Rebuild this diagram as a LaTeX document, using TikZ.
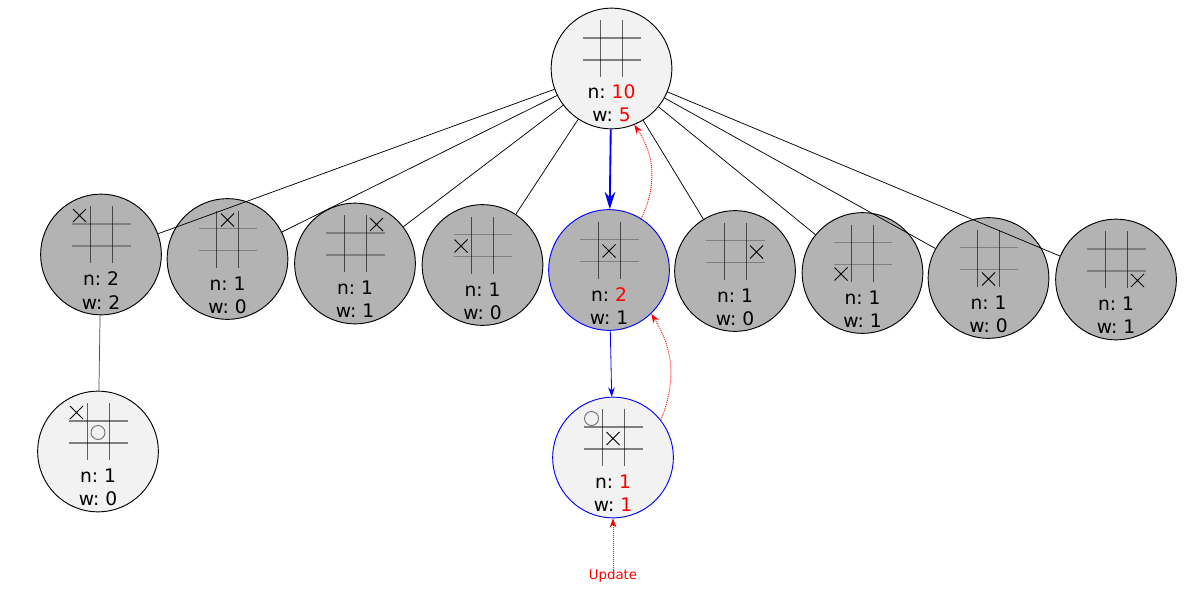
\documentclass[tikz,border=0pt]{standalone}
\usepackage{fontspec}
\setmainfont{DejaVu Sans}
\usepackage{xcolor}
\usepackage{tikz}
\usetikzlibrary{positioning,calc,arrows.meta}
\frenchspacing

\definecolor{fresh}{HTML}{F2F2F2}
\definecolor{visited}{HTML}{B3B3B3}
\definecolor{gridline}{HTML}{808080}

\newcommand{\hl}[1]{\textcolor{red}{#1}}
% empty 3x3 board in the upper half of a state
\newcommand{\board}[1]{%
  \begin{scope}[shift={(#1.center)}]
    \draw[gridh] (-29,-30.5) -- (29.5,-30.5) (-29,-8.5) -- (29.5,-8.5);
    \draw[gridv] (-11,-48.5) -- (-11,8.5) (11,-48.5) -- (11,8.5);
  \end{scope}}
% cross in column #2, row #3
\newcommand{\markx}[3]{%
  \begin{scope}[shift={(#1.center)}]
    \draw[xmark] ({21.5*#2-28},{20*#3-45.5}) -- ++(13,13) ++(0,-13) -- ++(-13,13);
  \end{scope}}
% nought in column #2, row #3
\newcommand{\marko}[3]{%
  \begin{scope}[shift={(#1.center)}]
    \draw[omark] ({21.5*#2-21.5},{20*#3-39}) circle[radius=5.25pt];
  \end{scope}}

\begin{document}
\begin{tikzpicture}[
	x=0.75pt, y=-0.75pt,
	state/.style={
		circle, draw=black, fill=fresh, line width=0.7pt,
		minimum size=90.5pt, inner sep=0pt
	},
	explored/.style={state, fill=visited},
	stats/.style={
		align=center, inner sep=0pt,
		font=\fontsize{14}{17.4}\selectfont
	},
	gridh/.style={draw=gridline, line width=1.4pt},
	gridv/.style={draw=black, draw opacity=0.6, line width=0.75pt},
	xmark/.style={draw=black, line width=0.7pt},
	omark/.style={draw=black!55, line width=0.7pt},
	tree/.style={draw=black, line width=0.55pt},
	select/.style={draw=blue, line width=1.4pt, -{Stealth[length=13pt,width=8pt]}},
	expand/.style={draw=blue, line width=0.6pt, -{Stealth[length=7pt,width=5pt]}},
	backup/.style={
		draw=red, line width=0.7pt, dash pattern=on 0.7pt off 0.8pt,
		-{Stealth[length=7pt,width=5pt]}
	}
	]
	\useasboundingbox (0,0) rectangle (1201,592);

	% Gốc
	\node[state] (root) at (611.5,68.5) {};
	\board{root}
	\node[stats] (roots) at ($(root)+(0,35)$) {n: \hl{10}\\w: \hl{5}};

	% Các con
	\node[explored] (c1) at (101,254.5) {};
	\board{c1} \markx{c1}{0}{0}
	\node[stats] (c1s) at ($(c1)+(0,36)$) {n: 2\\w: 2};

	\node[explored] (c2) at (227.5,259) {};
	\board{c2} \markx{c2}{1}{0}
	\node[stats] (c2s) at ($(c2)+(0,36)$) {n: 1\\w: 0};

	\node[explored] (c3) at (355,263.5) {};
	\board{c3} \markx{c3}{2}{0}
	\node[stats] (c3s) at ($(c3)+(0,36)$) {n: 1\\w: 1};

	\node[explored] (c4) at (482.5,265) {};
	\board{c4} \markx{c4}{0}{1}
	\node[stats] (c4s) at ($(c4)+(0,36)$) {n: 1\\w: 0};

	\node[explored, draw=blue] (c5) at (609,270) {};
	\board{c5} \markx{c5}{1}{1}
	\node[stats] (c5s) at ($(c5)+(0,36)$) {n: \hl{2}\\w: 1};

	\node[explored] (c6) at (735,271) {};
	\board{c6} \markx{c6}{2}{1}
	\node[stats] (c6s) at ($(c6)+(0,36)$) {n: 1\\w: 0};

	\node[explored] (c7) at (862.5,273) {};
	\board{c7} \markx{c7}{0}{2}
	\node[stats] (c7s) at ($(c7)+(0,36)$) {n: 1\\w: 1};

	\node[explored] (c8) at (988.5,278) {};
	\board{c8} \markx{c8}{1}{2}
	\node[stats] (c8s) at ($(c8)+(0,36)$) {n: 1\\w: 0};

	\node[explored] (c9) at (1116,279.5) {};
	\board{c9} \markx{c9}{2}{2}
	\node[stats] (c9s) at ($(c9)+(0,36)$) {n: 1\\w: 1};

	% Tầng dưới
	\node[state] (leaf) at (98,451.5) {};
	\board{leaf} \markx{leaf}{0}{0} \marko{leaf}{1}{1}
	\node[stats] (leafs) at ($(leaf)+(0,36)$) {n: 1\\w: 0};

	\node[state, draw=blue] (sim) at (613,457.5) {};
	\board{sim} \marko{sim}{0}{0} \markx{sim}{1}{1}
	\node[stats] (sims) at ($(sim)+(0,36)$) {n: \hl{1}\\w: \hl{1}};

	\node[text=red, inner sep=1pt, font=\fontsize{10}{12}\selectfont] (update) at (613,576) {Update};

	% Cạnh
	\draw[tree] (root) -- (c1);
	\draw[tree] (root) -- (c2);
	\draw[tree] (root) -- (c3);
	\draw[tree] (root) -- (c4);
	\draw[tree] (root) -- (c6);
	\draw[tree] (root) -- (c7);
	\draw[tree] (root) -- (c8);
	\draw[tree] (root) -- (c9);
	\draw[tree, draw=black!70] (c1) -- (leaf);
	\draw[select] (root) -- (c5);
	\draw[expand] (c5) -- (sim);

	% Lan truyền ngược
	\draw[backup] (update) -- (sim);
	\draw[backup] (sim.38) to[bend right=27] (c5.-46.5);
	\draw[backup] (c5.58) to[bend right=30] (root.-68);
\end{tikzpicture}
\end{document}
